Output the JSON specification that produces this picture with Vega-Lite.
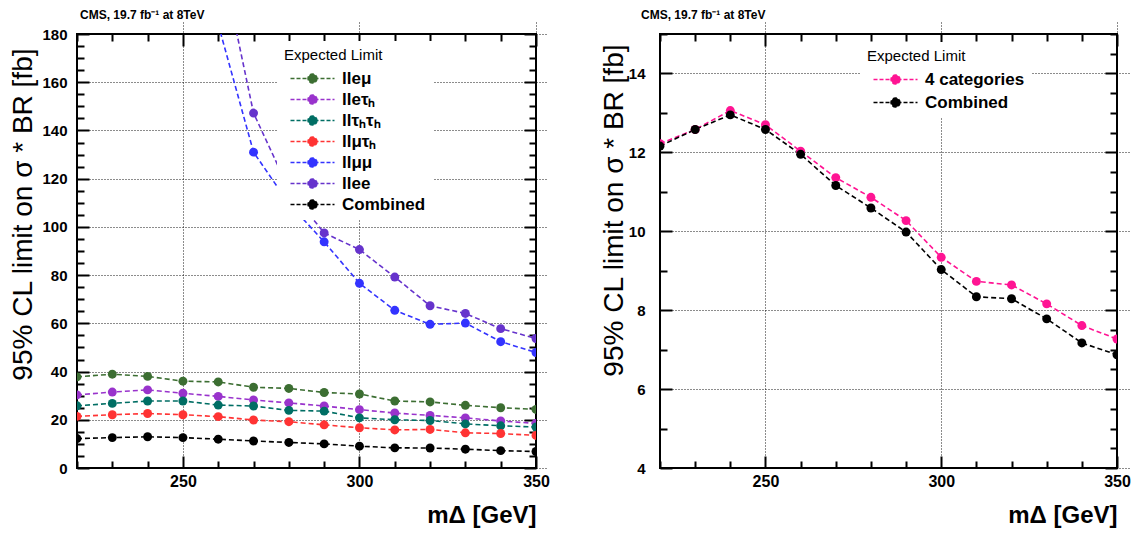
{
  "$schema": "https://vega.github.io/schema/vega-lite/v6.json",
  "background": "white",
  "padding": {"left": 8, "top": 8, "right": 4, "bottom": 0},
  "spacing": 48,
  "config": {
    "font": "Liberation Sans",
    "view": {"stroke": "black", "strokeWidth": 2},
    "axis": {
      "domain": false,
      "ticks": true,
      "tickColor": "black",
      "tickWidth": 2,
      "tickSize": 12,
      "offset": -12,
      "labelColor": "black",
      "titleColor": "black",
      "labelFont": "Liberation Sans",
      "labelFontWeight": "bold",
      "titleFont": "Liberation Sans",
      "gridColor": "black",
      "gridDash": [1, 2],
      "gridWidth": 1,
      "labelOverlap": false,
      "labelFlush": false
    }
  },
  "datasets": {
    "left": [
      {"series": "lleμ", "m": 220, "limit": 37.8}, {"series": "lleμ", "m": 230, "limit": 38.9}, {"series": "lleμ", "m": 240, "limit": 38.0}, {"series": "lleμ", "m": 250, "limit": 36.0}, {"series": "lleμ", "m": 260, "limit": 35.7}, {"series": "lleμ", "m": 270, "limit": 33.5}, {"series": "lleμ", "m": 280, "limit": 33.0}, {"series": "lleμ", "m": 290, "limit": 31.3}, {"series": "lleμ", "m": 300, "limit": 30.7}, {"series": "lleμ", "m": 310, "limit": 27.8}, {"series": "lleμ", "m": 320, "limit": 27.4}, {"series": "lleμ", "m": 330, "limit": 26.0}, {"series": "lleμ", "m": 340, "limit": 25.0}, {"series": "lleμ", "m": 350, "limit": 24.3},
      {"series": "lleτₕ", "m": 220, "limit": 30.3}, {"series": "lleτₕ", "m": 230, "limit": 31.5}, {"series": "lleτₕ", "m": 240, "limit": 32.4}, {"series": "lleτₕ", "m": 250, "limit": 31.0}, {"series": "lleτₕ", "m": 260, "limit": 29.7}, {"series": "lleτₕ", "m": 270, "limit": 28.2}, {"series": "lleτₕ", "m": 280, "limit": 27.0}, {"series": "lleτₕ", "m": 290, "limit": 25.7}, {"series": "lleτₕ", "m": 300, "limit": 24.2}, {"series": "lleτₕ", "m": 310, "limit": 22.8}, {"series": "lleτₕ", "m": 320, "limit": 21.8}, {"series": "lleτₕ", "m": 330, "limit": 20.8}, {"series": "lleτₕ", "m": 340, "limit": 19.5}, {"series": "lleτₕ", "m": 350, "limit": 18.5},
      {"series": "llτₕτₕ", "m": 220, "limit": 25.8}, {"series": "llτₕτₕ", "m": 230, "limit": 26.8}, {"series": "llτₕτₕ", "m": 240, "limit": 27.8}, {"series": "llτₕτₕ", "m": 250, "limit": 27.8}, {"series": "llτₕτₕ", "m": 260, "limit": 26.1}, {"series": "llτₕτₕ", "m": 270, "limit": 25.7}, {"series": "llτₕτₕ", "m": 280, "limit": 23.9}, {"series": "llτₕτₕ", "m": 290, "limit": 23.6}, {"series": "llτₕτₕ", "m": 300, "limit": 20.8}, {"series": "llτₕτₕ", "m": 310, "limit": 20.0}, {"series": "llτₕτₕ", "m": 320, "limit": 19.7}, {"series": "llτₕτₕ", "m": 330, "limit": 18.3}, {"series": "llτₕτₕ", "m": 340, "limit": 17.5}, {"series": "llτₕτₕ", "m": 350, "limit": 17.0},
      {"series": "llμτₕ", "m": 220, "limit": 21.4}, {"series": "llμτₕ", "m": 230, "limit": 22.1}, {"series": "llμτₕ", "m": 240, "limit": 22.6}, {"series": "llμτₕ", "m": 250, "limit": 22.1}, {"series": "llμτₕ", "m": 260, "limit": 21.3}, {"series": "llμτₕ", "m": 270, "limit": 19.9}, {"series": "llμτₕ", "m": 280, "limit": 19.2}, {"series": "llμτₕ", "m": 290, "limit": 17.9}, {"series": "llμτₕ", "m": 300, "limit": 16.7}, {"series": "llμτₕ", "m": 310, "limit": 15.8}, {"series": "llμτₕ", "m": 320, "limit": 16.0}, {"series": "llμτₕ", "m": 330, "limit": 14.6}, {"series": "llμτₕ", "m": 340, "limit": 14.3}, {"series": "llμτₕ", "m": 350, "limit": 13.5},
      {"series": "llμμ", "m": 260, "limit": 184}, {"series": "llμμ", "m": 270, "limit": 131.0}, {"series": "llμμ", "m": 280, "limit": 109.7}, {"series": "llμμ", "m": 290, "limit": 93.8}, {"series": "llμμ", "m": 300, "limit": 76.6}, {"series": "llμμ", "m": 310, "limit": 65.4}, {"series": "llμμ", "m": 320, "limit": 59.6}, {"series": "llμμ", "m": 330, "limit": 60.1}, {"series": "llμμ", "m": 340, "limit": 52.4}, {"series": "llμμ", "m": 350, "limit": 47.9},
      {"series": "llee", "m": 260, "limit": 217}, {"series": "llee", "m": 270, "limit": 147.2}, {"series": "llee", "m": 280, "limit": 115.7}, {"series": "llee", "m": 290, "limit": 97.5}, {"series": "llee", "m": 300, "limit": 90.6}, {"series": "llee", "m": 310, "limit": 79.2}, {"series": "llee", "m": 320, "limit": 67.3}, {"series": "llee", "m": 330, "limit": 64.1}, {"series": "llee", "m": 340, "limit": 57.8}, {"series": "llee", "m": 350, "limit": 53.7},
      {"series": "Combined", "m": 220, "limit": 12.2}, {"series": "Combined", "m": 230, "limit": 12.6}, {"series": "Combined", "m": 240, "limit": 12.95}, {"series": "Combined", "m": 250, "limit": 12.6}, {"series": "Combined", "m": 260, "limit": 11.95}, {"series": "Combined", "m": 270, "limit": 11.2}, {"series": "Combined", "m": 280, "limit": 10.6}, {"series": "Combined", "m": 290, "limit": 10.0}, {"series": "Combined", "m": 300, "limit": 9.05}, {"series": "Combined", "m": 310, "limit": 8.35}, {"series": "Combined", "m": 320, "limit": 8.3}, {"series": "Combined", "m": 330, "limit": 7.8}, {"series": "Combined", "m": 340, "limit": 7.2}, {"series": "Combined", "m": 350, "limit": 6.85}
    ],
    "right": [
      {"series": "4 categories", "m": 220, "limit": 12.22}, {"series": "4 categories", "m": 230, "limit": 12.58}, {"series": "4 categories", "m": 240, "limit": 13.06}, {"series": "4 categories", "m": 250, "limit": 12.70}, {"series": "4 categories", "m": 260, "limit": 12.03}, {"series": "4 categories", "m": 270, "limit": 11.36}, {"series": "4 categories", "m": 280, "limit": 10.86}, {"series": "4 categories", "m": 290, "limit": 10.27}, {"series": "4 categories", "m": 300, "limit": 9.34}, {"series": "4 categories", "m": 310, "limit": 8.73}, {"series": "4 categories", "m": 320, "limit": 8.64}, {"series": "4 categories", "m": 330, "limit": 8.16}, {"series": "4 categories", "m": 340, "limit": 7.61}, {"series": "4 categories", "m": 350, "limit": 7.27},
      {"series": "Combined", "m": 220, "limit": 12.16}, {"series": "Combined", "m": 230, "limit": 12.58}, {"series": "Combined", "m": 240, "limit": 12.95}, {"series": "Combined", "m": 250, "limit": 12.58}, {"series": "Combined", "m": 260, "limit": 11.95}, {"series": "Combined", "m": 270, "limit": 11.16}, {"series": "Combined", "m": 280, "limit": 10.59}, {"series": "Combined", "m": 290, "limit": 9.98}, {"series": "Combined", "m": 300, "limit": 9.03}, {"series": "Combined", "m": 310, "limit": 8.34}, {"series": "Combined", "m": 320, "limit": 8.29}, {"series": "Combined", "m": 330, "limit": 7.78}, {"series": "Combined", "m": 340, "limit": 7.17}, {"series": "Combined", "m": 350, "limit": 6.87}
    ]
  },
  "resolve": {"scale": {"stroke": "independent", "fill": "independent"}, "legend": {"stroke": "independent", "fill": "independent"}},
  "hconcat": [
    {
      "width": 459,
      "height": 434,
      "title": {"text": "CMS, 19.7 fb⁻¹ at 8TeV", "anchor": "start", "frame": "group", "fontSize": 12, "fontWeight": "bold", "font": "Liberation Sans", "color": "black", "offset": 5, "dx": 3},
      "data": {"name": "left"},
      "resolve": {"axis": {"x": "independent", "y": "independent"}},
      "layer": [
        {
          "mark": {"type": "line", "strokeDash": [5, 3], "strokeWidth": 1.6, "clip": true},
          "encoding": {
            "x": {"field": "m", "type": "quantitative", "scale": {"domain": [220, 350], "nice": false, "zero": false},
              "axis": {"values": [220, 230, 240, 250, 260, 270, 280, 290, 300, 310, 320, 330, 340, 350], "labelExpr": "datum.value % 50 == 0 ? datum.label : ''", "tickDash": {"condition": {"test": "datum.value % 50 == 0", "value": [20, 0]}, "value": [0, 5, 7, 100]}, "grid": true, "gridOpacity": {"condition": {"test": "datum.value % 50 == 0", "value": 0.9}, "value": 0}, "labelPadding": 5, "labelFontSize": 16, "title": "mΔ [GeV]", "titleAnchor": "end", "titleFontSize": 24, "titleFontWeight": "bold", "titlePadding": 14}},
            "y": {"field": "limit", "type": "quantitative", "scale": {"domain": [0, 180], "nice": false, "zero": false},
              "axis": {"values": [0, 5, 10, 15, 20, 25, 30, 35, 40, 45, 50, 55, 60, 65, 70, 75, 80, 85, 90, 95, 100, 105, 110, 115, 120, 125, 130, 135, 140, 145, 150, 155, 160, 165, 170, 175, 180], "labelExpr": "datum.value % 20 == 0 ? datum.label : ''", "tickDash": {"condition": {"test": "datum.value % 20 == 0", "value": [20, 0]}, "value": [0, 5, 7, 100]}, "grid": true, "gridOpacity": {"condition": {"test": "datum.value % 20 == 0", "value": 0.9}, "value": 0}, "labelPadding": 10, "labelFontSize": 15, "title": "95% CL limit on σ * BR [fb]", "titleAnchor": "end", "titleY": 14, "titleFontSize": 28, "titleFontWeight": "normal", "titlePadding": 4}},
            "stroke": {"field": "series", "type": "nominal",
              "scale": {"domain": ["lleμ", "lleτₕ", "llτₕτₕ", "llμτₕ", "llμμ", "llee", "Combined"], "range": ["#3c6e32", "#9933cc", "#006e64", "#ff3333", "#3333ff", "#6633cc", "#000000"]},
              "legend": {"title": "Expected Limit", "orient": "none", "legendX": 200, "legendY": 7, "padding": 7, "fillColor": "white", "titleFont": "Liberation Sans", "titleFontSize": 15, "titleFontWeight": "normal", "titleColor": "black", "titlePadding": 7, "labelFont": "Liberation Sans", "labelFontSize": 17, "labelFontWeight": "bold", "labelColor": "black", "symbolType": "M-4.4,0H4.4M0.9,0A0.9,0.9 0 1,1 -0.9,0A0.9,0.9 0 1,1 0.9,0Z", "symbolSize": 100, "symbolStrokeWidth": 1.5, "symbolDash": [4, 2], "symbolOffset": 20, "labelOffset": 21, "rowPadding": 3}}
          }
        },
        {
          "mark": {"type": "point", "filled": true, "size": 80, "opacity": 1, "clip": true},
          "encoding": {
            "x": {"field": "m", "type": "quantitative",
              "axis": {"orient": "top", "values": [220, 230, 240, 250, 260, 270, 280, 290, 300, 310, 320, 330, 340, 350], "labels": false, "title": null, "grid": false, "tickDash": {"condition": {"test": "datum.value % 50 == 0", "value": [20, 0]}, "value": [0, 5, 7, 100]}}},
            "y": {"field": "limit", "type": "quantitative",
              "axis": {"orient": "right", "values": [0, 5, 10, 15, 20, 25, 30, 35, 40, 45, 50, 55, 60, 65, 70, 75, 80, 85, 90, 95, 100, 105, 110, 115, 120, 125, 130, 135, 140, 145, 150, 155, 160, 165, 170, 175, 180], "labels": false, "title": null, "grid": false, "tickDash": {"condition": {"test": "datum.value % 20 == 0", "value": [20, 0]}, "value": [0, 5, 7, 100]}}},
            "fill": {"field": "series", "type": "nominal",
              "scale": {"domain": ["lleμ", "lleτₕ", "llτₕτₕ", "llμτₕ", "llμμ", "llee", "Combined"], "range": ["#3c6e32", "#9933cc", "#006e64", "#ff3333", "#3333ff", "#6633cc", "#000000"]},
              "legend": {"title": "Expected Limit", "orient": "none", "legendX": 200, "legendY": 7, "padding": 7, "fillColor": "white", "titleFont": "Liberation Sans", "titleFontSize": 15, "titleFontWeight": "normal", "titleColor": "black", "titlePadding": 7, "labelFont": "Liberation Sans", "labelFontSize": 17, "labelFontWeight": "bold", "labelColor": "black", "symbolType": "M-4.4,0H4.4M0.9,0A0.9,0.9 0 1,1 -0.9,0A0.9,0.9 0 1,1 0.9,0Z", "symbolSize": 100, "symbolStrokeWidth": 1.5, "symbolDash": [4, 2], "symbolOffset": 20, "labelOffset": 21, "rowPadding": 3}}
          }
        }
      ]
    },
    {
      "width": 457,
      "height": 434,
      "title": {"text": "CMS, 19.7 fb⁻¹ at 8TeV", "anchor": "start", "frame": "group", "fontSize": 12, "fontWeight": "bold", "font": "Liberation Sans", "color": "black", "offset": 5, "dx": -19},
      "data": {"name": "right"},
      "resolve": {"axis": {"x": "independent", "y": "independent"}},
      "layer": [
        {
          "mark": {"type": "line", "strokeDash": [5, 3], "strokeWidth": 1.6, "clip": true},
          "encoding": {
            "x": {"field": "m", "type": "quantitative", "scale": {"domain": [220, 350], "nice": false, "zero": false},
              "axis": {"values": [220, 230, 240, 250, 260, 270, 280, 290, 300, 310, 320, 330, 340, 350], "labelExpr": "datum.value % 50 == 0 ? datum.label : ''", "tickDash": {"condition": {"test": "datum.value % 50 == 0", "value": [20, 0]}, "value": [0, 5, 7, 100]}, "grid": true, "gridOpacity": {"condition": {"test": "datum.value % 50 == 0", "value": 0.9}, "value": 0}, "labelPadding": 5, "labelFontSize": 16, "title": "mΔ [GeV]", "titleAnchor": "end", "titleFontSize": 24, "titleFontWeight": "bold", "titlePadding": 14}},
            "y": {"field": "limit", "type": "quantitative", "scale": {"domain": [4, 15], "nice": false, "zero": false},
              "axis": {"values": [4, 4.5, 5, 5.5, 6, 6.5, 7, 7.5, 8, 8.5, 9, 9.5, 10, 10.5, 11, 11.5, 12, 12.5, 13, 13.5, 14, 14.5, 15], "format": "d", "labelExpr": "datum.value % 2 == 0 ? datum.label : ''", "tickDash": {"condition": {"test": "datum.value % 2 == 0", "value": [20, 0]}, "value": [0, 5, 7, 100]}, "grid": true, "gridOpacity": {"condition": {"test": "datum.value % 2 == 0", "value": 0.9}, "value": 0}, "labelPadding": 15, "labelFontSize": 15, "title": "95% CL limit on σ * BR [fb]", "titleAnchor": "end", "titleY": 10, "titleFontSize": 28, "titleFontWeight": "normal", "titlePadding": 0}},
            "stroke": {"field": "series", "type": "nominal",
              "scale": {"domain": ["4 categories", "Combined"], "range": ["#ff1493", "#000000"]},
              "legend": {"title": "Expected Limit", "orient": "none", "legendX": 200, "legendY": 8, "padding": 7, "fillColor": "white", "titleFont": "Liberation Sans", "titleFontSize": 15, "titleFontWeight": "normal", "titleColor": "black", "titlePadding": 7, "labelFont": "Liberation Sans", "labelFontSize": 17, "labelFontWeight": "bold", "labelColor": "black", "symbolType": "M-4.4,0H4.4M0.9,0A0.9,0.9 0 1,1 -0.9,0A0.9,0.9 0 1,1 0.9,0Z", "symbolSize": 100, "symbolStrokeWidth": 1.5, "symbolDash": [4, 2], "symbolOffset": 20, "labelOffset": 21, "rowPadding": 5}}
          }
        },
        {
          "mark": {"type": "point", "filled": true, "size": 80, "opacity": 1, "clip": true},
          "encoding": {
            "x": {"field": "m", "type": "quantitative",
              "axis": {"orient": "top", "values": [220, 230, 240, 250, 260, 270, 280, 290, 300, 310, 320, 330, 340, 350], "labels": false, "title": null, "grid": false, "tickDash": {"condition": {"test": "datum.value % 50 == 0", "value": [20, 0]}, "value": [0, 5, 7, 100]}}},
            "y": {"field": "limit", "type": "quantitative",
              "axis": {"orient": "right", "values": [4, 4.5, 5, 5.5, 6, 6.5, 7, 7.5, 8, 8.5, 9, 9.5, 10, 10.5, 11, 11.5, 12, 12.5, 13, 13.5, 14, 14.5, 15], "labels": false, "title": null, "grid": false, "tickDash": {"condition": {"test": "datum.value % 2 == 0", "value": [20, 0]}, "value": [0, 5, 7, 100]}}},
            "fill": {"field": "series", "type": "nominal",
              "scale": {"domain": ["4 categories", "Combined"], "range": ["#ff1493", "#000000"]},
              "legend": {"title": "Expected Limit", "orient": "none", "legendX": 200, "legendY": 8, "padding": 7, "fillColor": "white", "titleFont": "Liberation Sans", "titleFontSize": 15, "titleFontWeight": "normal", "titleColor": "black", "titlePadding": 7, "labelFont": "Liberation Sans", "labelFontSize": 17, "labelFontWeight": "bold", "labelColor": "black", "symbolType": "M-4.4,0H4.4M0.9,0A0.9,0.9 0 1,1 -0.9,0A0.9,0.9 0 1,1 0.9,0Z", "symbolSize": 100, "symbolStrokeWidth": 1.5, "symbolDash": [4, 2], "symbolOffset": 20, "labelOffset": 21, "rowPadding": 5}}
          }
        }
      ]
    }
  ]
}
